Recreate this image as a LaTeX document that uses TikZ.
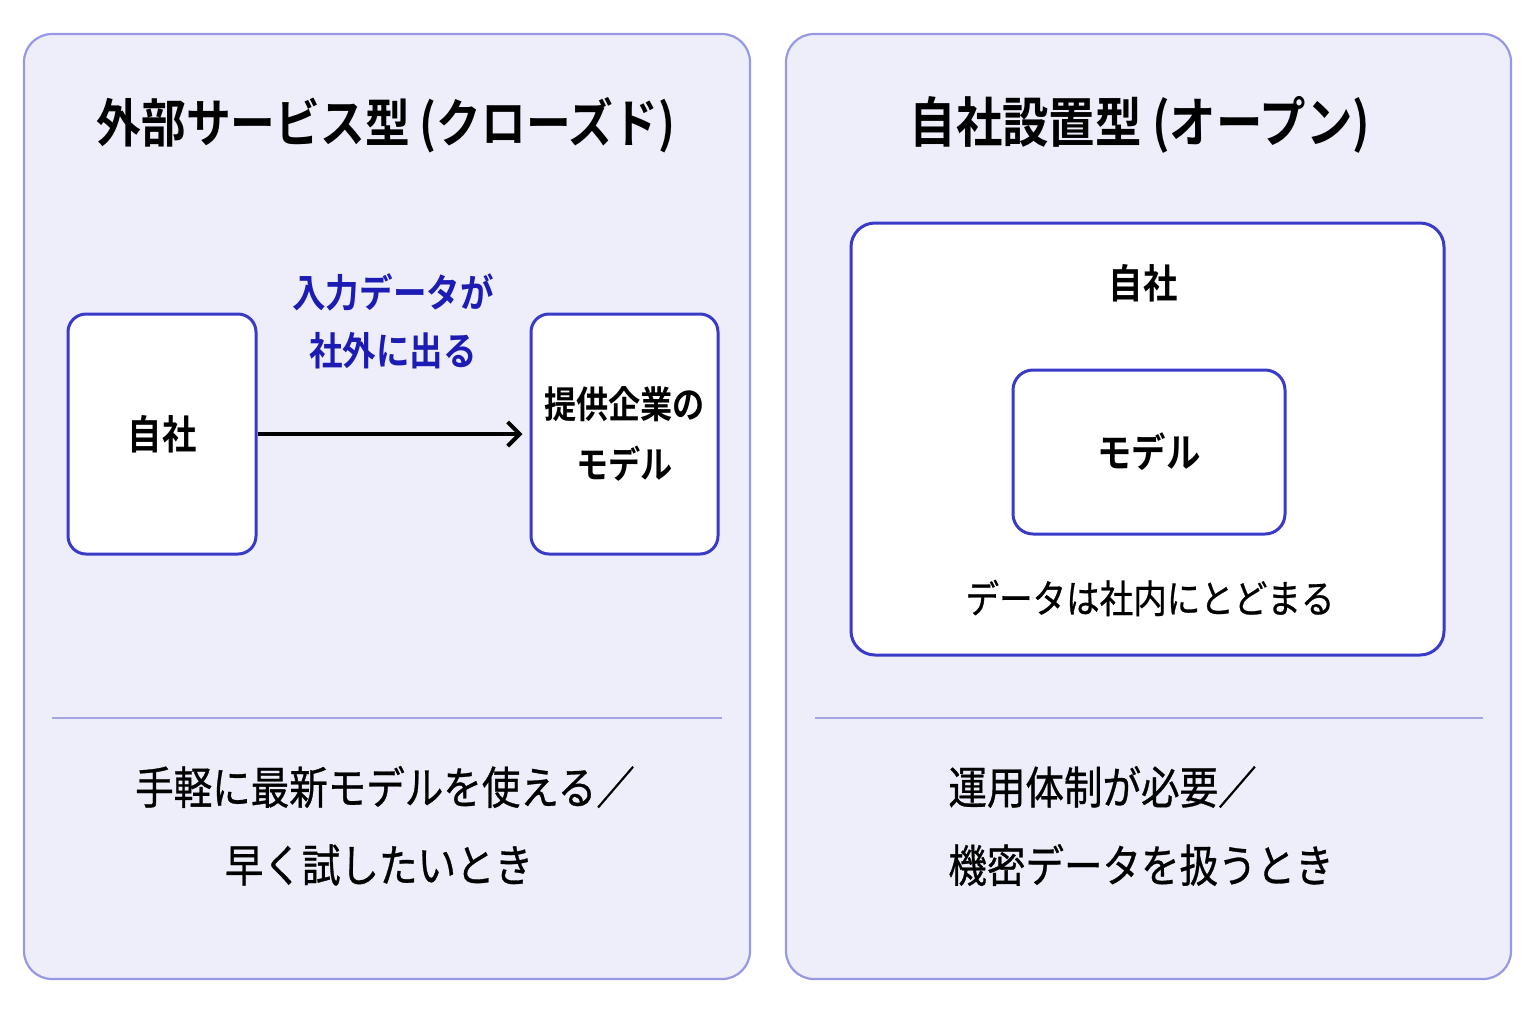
\documentclass[tikz,border=0pt]{standalone}
\usepackage{fontspec}
\newfontfamily\cjk[FakeStretch=0.86,BoldFont={Noto Sans CJK JP Bold}]{Noto Sans CJK JP}
\newfontfamily\cjkmed[FakeStretch=0.86,FakeBold=0.7]{Noto Sans CJK JP}
\usetikzlibrary{arrows.meta}
\definecolor{panelfill}{HTML}{EEEEFB}
\definecolor{panelline}{HTML}{9898E4}
\definecolor{boxline}{HTML}{3A3AC8}
\definecolor{labelblue}{HTML}{1C1CB4}
\definecolor{sepline}{HTML}{A4A4E2}
\tikzset{
  panel/.style={draw=panelline, line width=1.1pt, fill=panelfill, rounded corners=14pt, inner sep=0pt},
  wbox/.style={draw=boxline, line width=1.5pt, fill=white, rounded corners=9pt, inner sep=0pt, align=center},
  ttl/.style={font=\cjk\bfseries\fontsize{26}{30}\selectfont, inner sep=0pt},
  lbl/.style={font=\cjk\bfseries\fontsize{20}{30}\selectfont, inner sep=0pt, align=center},
  txt/.style={font=\cjkmed\fontsize{19.5}{30}\selectfont, inner sep=0pt},
  blue/.style={font=\cjk\bfseries\fontsize{19.5}{29}\selectfont, text=labelblue, inner sep=0pt, align=center},
  bottom/.style={font=\cjkmed\fontsize{22.4}{39}\selectfont, inner sep=0pt},
  sep/.style={draw=sepline, line width=1.1pt},
  flow/.style={draw=black, line width=2pt, -{Straight Barb[length=6pt,width=12pt,line width=2pt]}}
}
\begin{document}
\begin{tikzpicture}[x=0.5pt,y=-0.5pt]
\useasboundingbox[fill=white] (0,0) rectangle (1536,1024);
% panels
\node[panel, minimum width=363pt, minimum height=472.5pt] (lp) at (387,506.5) {};
\node[panel, minimum width=362.5pt, minimum height=472.5pt] (rp) at (1148.5,506.5) {};
% titles
\node[ttl] (lt) at (386,125) {外部サービス型 (クローズド)};
\node[ttl, font=\cjk\bfseries\fontsize{27}{30}\selectfont] (rt) at (1140,125) {自社設置型 (オープン)};
% left diagram
\node[wbox, lbl, minimum width=94pt, minimum height=120pt] (self) at (162,434) {自社};
\node[wbox, lbl, font=\cjk\bfseries\fontsize{18.7}{30}\selectfont, minimum width=93.5pt, minimum height=120pt] (prov) at (624.5,434) {提供企業の\\モデル};
\draw[flow, shorten >=3.5pt] (self.east) -- (prov.west);
\node[blue] (leak) at (393,321) {入力データが\\社外に出る};
% right diagram
\node[wbox, rounded corners=12pt, minimum width=296.5pt, minimum height=216pt] (own) at (1147.5,439) {};
\node[lbl] (ownl) at (1143,283) {自社};
\node[wbox, lbl, rounded corners=10pt, minimum width=136pt, minimum height=82pt] (model) at (1149,452) {モデル};
\node[txt] (stay) at (1150,598) {データは社内にとどまる};
% separators
\coordinate (ls1) at (52,718); \coordinate (ls2) at (722,718);
\coordinate (rs1) at (815,718); \coordinate (rs2) at (1483,718);
\draw[sep] (ls1) -- (ls2);
\draw[sep] (rs1) -- (rs2);
% bottom texts
\node[bottom] (lb1) at (385,787) {手軽に最新モデルを使える／};
\node[bottom] (lb2) at (379,865) {早く試したいとき};
\node[bottom, anchor=west] (rb1) at (948,787) {運用体制が必要／};
\node[bottom, anchor=west] (rb2) at (948,865) {機密データを扱うとき};
\end{tikzpicture}
\end{document}
